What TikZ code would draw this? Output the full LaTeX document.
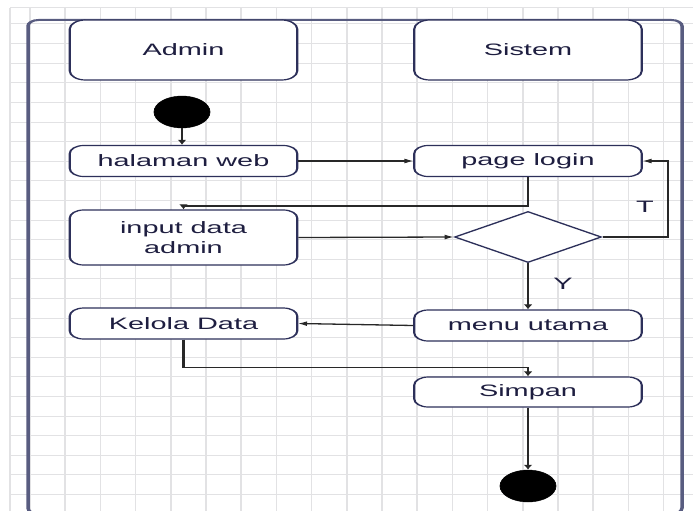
\documentclass[tikz,border=0pt]{standalone}
\usepackage{fontspec}
\setmainfont{Liberation Sans}
\usetikzlibrary{shapes.geometric,arrows.meta}

\definecolor{gridln}{RGB}{226,226,228}
\definecolor{framec}{RGB}{88,92,128}
\definecolor{boxc}{RGB}{45,48,90}
\definecolor{linec}{RGB}{40,40,40}
\definecolor{txtc}{RGB}{30,30,64}

\tikzset{
  basefont/.style={font=\fontsize{16.5pt}{20pt}\selectfont, text=txtc},
  lanebox/.style={basefont, draw=boxc, line width=1.2pt, rounded corners=9pt,
    fill=white, minimum width=130pt, minimum height=60pt, inner sep=0pt},
  actbox/.style={basefont, draw=boxc, line width=1.2pt, rounded corners=8pt,
    fill=white, minimum width=130pt, minimum height=31pt, inner sep=0pt, align=center},
  dotnode/.style={circle, fill=black, draw=black, minimum size=32pt, inner sep=0pt},
  decbox/.style={diamond, draw=boxc, line width=1.2pt, fill=white,
    minimum width=84pt, minimum height=51pt, inner sep=0pt, aspect=1.65},
  lbl/.style={basefont, inner sep=0pt},
  arr/.style={draw=linec, line width=1.3pt, -{Latex[length=5pt,width=5pt]}},
  gridline/.style={draw=gridln, line width=1pt}
}

\begin{document}
\begin{tikzpicture}[x=1pt,y=-1pt]
\useasboundingbox (0,0) rectangle (693,511);
\fill[white] (0,0) rectangle (693,511);

% the whole sheet is drawn narrow and widened by the canvas
\begin{scope}[x=0.571429pt, transform canvas={xscale=1.75}]
  % background grid
  \foreach \i in {0,...,19}
    \draw[gridline] ({30+35.2*\i},8) -- ({30+35.2*\i},511);
  \foreach \j in {0,...,25}
    \draw[gridline] (10,{24+19.6*\j}) -- (693,{24+19.6*\j});
  \draw[gridline] (10,8) -- (693,8);
  \draw[gridline] (10,8) -- (10,511);

  % activity frame, its lower edge runs just past the sheet
  \draw[framec, line width=2pt, rounded corners=6pt] (28,20) rectangle (682,514);

  % swimlane headers
  \node[lanebox] (admin)  at (183.5,50) {Admin};
  \node[lanebox] (sistem) at (528,50) {Sistem};

  % nodes
  \node[dotnode] (start) at (182,112) {};
  \node[actbox] (halaman) at (183.5,161) {halaman web};
  \node[actbox] (page) at (528,161) {page login};
  \node[actbox, minimum height=55pt] (input) at (183.5,237.5) {input data\\admin};
  \node[decbox] (dec) at (528,237) {};
  \node[actbox] (menu) at (528,325.5) {menu utama};
  \node[actbox] (kelola) at (183.5,323.5) {Kelola Data};
  \node[actbox, minimum height=30pt] (simpan) at (528,392) {Simpan};
  \node[dotnode] (finish) at (528,486) {};

  \coordinate (tturn) at (668,161);

  % connectors
  \draw[arr] (start) -- (start |- halaman.north);
  \draw[arr] (halaman.east) -- (page.west);
  \draw[arr] (page.south) -- ++(0,29) -| (input.north);
  \draw[arr] (input.east) -- (dec.west);
  \draw[arr] (dec.east) -| (tturn) -- (page.east);
  \draw[arr] (dec.south) -- (menu.north);
  \draw[arr] (menu.west) -- (kelola.east);
  \draw[arr] (kelola.south) -- ++(0,28) -| (simpan.north);
  \draw[arr] (simpan.south) -- (finish.north);

  % guard labels
  \node[lbl] (tlbl) at (645,207) {T};
  \node[lbl] (ylbl) at (563,284) {Y};
\end{scope}
\end{tikzpicture}
\end{document}
